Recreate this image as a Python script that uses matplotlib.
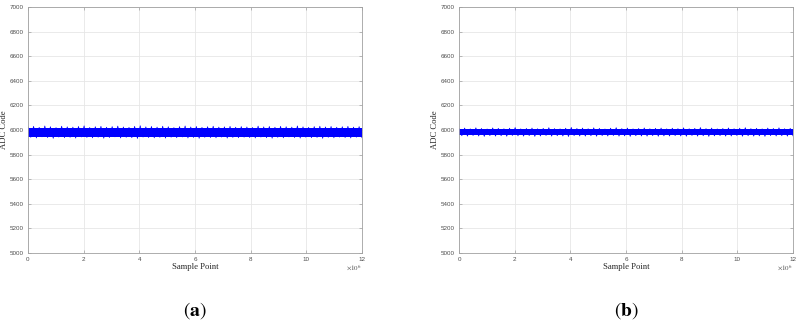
import numpy as np
import matplotlib
matplotlib.use("Agg")
import matplotlib.pyplot as plt

# dense core of the ADC noise band, then upper / lower peaks read along the record
a_core = (5947, 6016)
a_hi = [6025, 6030, 6022, 6033, 6027, 6020, 6031, 6026, 6024, 6029, 6034, 6021, 6027, 6030,
        6023, 6028, 6032, 6025, 6022, 6030, 6035, 6026, 6029, 6024, 6031, 6027, 6020, 6028,
        6033, 6025, 6029, 6022, 6027, 6031, 6024, 6026, 6030, 6023, 6028, 6025, 6021, 6032,
        6026, 6029, 6023, 6030, 6027, 6024, 6033, 6026, 6022, 6028, 6031, 6025, 6029, 6023,
        6027, 6030, 6024, 6028]
a_lo = [5940, 5935, 5944, 5938, 5932, 5942, 5937, 5940, 5934, 5943, 5939, 5936, 5941, 5933,
        5938, 5944, 5935, 5940, 5937, 5931, 5942, 5938, 5936, 5940, 5934, 5941, 5937, 5943,
        5935, 5939, 5932, 5940, 5938, 5936, 5942, 5934, 5939, 5937, 5941, 5938, 5935, 5942,
        5937, 5933, 5940, 5936, 5943, 5938, 5934, 5941, 5937, 5939, 5932, 5940, 5936, 5942,
        5938, 5935, 5941, 5937]
b_core = (5956, 6006)
b_hi = [6012, 6016, 6010, 6018, 6013, 6009, 6017, 6014, 6011, 6015, 6020, 6010, 6013, 6016,
        6011, 6014, 6019, 6012, 6010, 6015, 6021, 6013, 6016, 6011, 6018, 6014, 6009, 6015,
        6019, 6012, 6016, 6010, 6013, 6017, 6011, 6014, 6016, 6010, 6015, 6012, 6018, 6011,
        6014, 6020, 6012, 6016, 6010, 6013, 6017, 6011, 6015, 6019, 6012, 6014, 6010, 6016,
        6013, 6018, 6011, 6014]
b_lo = [5953, 5950, 5955, 5951, 5948, 5954, 5950, 5953, 5949, 5955, 5952, 5950, 5954, 5948,
        5951, 5955, 5950, 5953, 5951, 5947, 5954, 5951, 5950, 5953, 5949, 5954, 5951, 5955,
        5950, 5952, 5948, 5953, 5951, 5950, 5954, 5949, 5952, 5951, 5954, 5951, 5949, 5955,
        5950, 5953, 5948, 5952, 5954, 5950, 5951, 5955, 5949, 5953, 5950, 5952, 5948, 5954,
        5951, 5953, 5950, 5952]
n_samples = 12e6
x_ticks = [0, 2, 4, 6, 8, 10, 12]
y_ticks = [5000, 5200, 5400, 5600, 5800, 6000, 6200, 6400, 6600, 6800, 7000]
captions = ["a", "b"]

plt.rcParams['mathtext.fontset'] = 'stix'

fig = plt.figure(figsize=(7.99, 3.23), dpi=100)
positions = [[0.035, 0.217, 0.418, 0.761], [0.5745, 0.217, 0.418, 0.761]]

for pos, core, hi, lo, cap in zip(positions, [a_core, b_core], [a_hi, b_hi],
                                  [a_lo, b_lo], captions):
    ax = fig.add_axes(pos)
    ax.axhspan(core[0], core[1], color='#0000ff', lw=0)
    # zig-zag between successive peaks gives the spiky edges
    x = np.linspace(0, n_samples, 2 * len(hi))
    y = np.ravel(np.column_stack([hi, lo]))
    ax.plot(x, y, color='#0000ff', lw=0.5)
    ax.set_xlim(0, n_samples)
    ax.set_ylim(5000, 7000)
    ax.set_xticks([t * 1e6 for t in x_ticks])
    ax.set_xticklabels([str(t) for t in x_ticks])
    ax.set_yticks(y_ticks)
    ax.grid(True, color='#e6e6e6', linewidth=0.6)
    ax.set_axisbelow(True)
    for s in ax.spines.values():
        s.set_color('#a0a0a0')
        s.set_linewidth(0.6)
    ax.tick_params(direction='in', length=2.5, width=0.5, color='#a0a0a0',
                   labelsize=4.5, labelcolor='#4d4d4d', pad=3,
                   top=True, right=True)
    for lab in ax.get_xticklabels() + ax.get_yticklabels():
        lab.set_family('Liberation Sans')
    ax.set_xlabel('Sample Point', family='Liberation Serif', fontsize=6.2,
                  color='#262626', labelpad=1)
    ax.set_ylabel('ADC Code', family='Liberation Serif', fontsize=6.2,
                  color='#262626', labelpad=1)
    ax.text(1.0, -0.045, r'$\times10^6$', transform=ax.transAxes, ha='right',
            va='top', fontsize=5, color='#4d4d4d')
    ax.text(0.5, -0.19, r'$(\mathbf{%s})$' % cap, transform=ax.transAxes,
            ha='center', va='top', fontsize=14)

fig.savefig('out.png', dpi=100, facecolor='white')
